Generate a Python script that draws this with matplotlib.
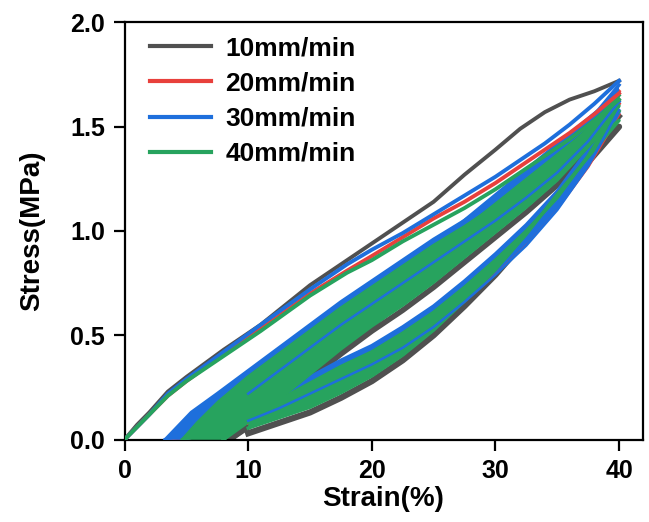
import numpy as np
import matplotlib
matplotlib.use("Agg")
import matplotlib.pyplot as plt

plt.rcParams['font.family'] = ['Liberation Sans', 'DejaVu Sans']
plt.rcParams['font.weight'] = 'bold'

labels = ['10mm/min', '20mm/min', '30mm/min', '40mm/min']
colors = ['#505050', '#e8403c', '#1e6fdc', '#27a35e']

# first loading curves (strain %, stress MPa)
first_x = [0, 1, 2, 3.5, 5, 8, 11, 15, 18, 20, 22.5, 25, 27.5, 30, 32, 34, 36, 38, 40]
first_y = {
    '10mm/min': [0, 0.07, 0.13, 0.23, 0.30, 0.43, 0.55, 0.74, 0.86, 0.94, 1.04, 1.14, 1.27, 1.39, 1.49, 1.57, 1.63, 1.67, 1.72],
    '20mm/min': [0, 0.06, 0.12, 0.21, 0.28, 0.41, 0.53, 0.70, 0.81, 0.88, 0.97, 1.06, 1.14, 1.23, 1.31, 1.39, 1.47, 1.56, 1.66],
    '30mm/min': [0, 0.06, 0.12, 0.22, 0.29, 0.42, 0.55, 0.72, 0.84, 0.91, 0.99, 1.08, 1.17, 1.26, 1.34, 1.42, 1.51, 1.61, 1.72],
    '40mm/min': [0, 0.06, 0.12, 0.21, 0.28, 0.40, 0.52, 0.69, 0.80, 0.86, 0.95, 1.03, 1.11, 1.20, 1.28, 1.36, 1.44, 1.53, 1.63],
}

# later cycles: band edges share one strain grid from 10 % up
band_x = [10, 12.5, 15, 17.5, 20, 22.5, 25, 27.5, 30, 32.5, 35, 37.5, 40]

# 10mm/min later cycles are thin: one reloading and one unloading line
gray_reload_head = ([8.5], [0])
gray_reload = [0.06, 0.17, 0.29, 0.41, 0.52, 0.62, 0.73, 0.85, 0.97, 1.09, 1.22, 1.38, 1.55]
gray_unload_tail = ([8.5], [0])
gray_unload = [0.03, 0.08, 0.13, 0.20, 0.28, 0.38, 0.50, 0.64, 0.79, 0.96, 1.15, 1.33, 1.50]

# reloading band, top and bottom edge: (head strain, head stress), grid stress
reload_top_head = {
    '20mm/min': ([3.6, 5.6, 7.6], [0, 0.11, 0.20]),
    '30mm/min': ([3.3, 5.4, 7.5], [0, 0.13, 0.22]),
    '40mm/min': ([4.7, 5.9, 7.6], [0, 0.08, 0.18]),
}
reload_top = {
    '20mm/min': [0.32, 0.43, 0.54, 0.65, 0.75, 0.85, 0.95, 1.04, 1.14, 1.25, 1.37, 1.51, 1.67],
    '30mm/min': [0.33, 0.44, 0.55, 0.66, 0.76, 0.86, 0.96, 1.05, 1.15, 1.26, 1.38, 1.52, 1.70],
    '40mm/min': [0.30, 0.41, 0.52, 0.63, 0.73, 0.83, 0.93, 1.02, 1.12, 1.23, 1.35, 1.49, 1.65],
}
reload_bot_head = {
    '20mm/min': ([4.7, 5.9, 7.6], [0, 0.05, 0.14]),
    '30mm/min': ([4.7, 5.9, 7.6], [0, 0.06, 0.15]),
    '40mm/min': ([8.0], [0]),
}
reload_bot = {
    '20mm/min': [0.26, 0.37, 0.48, 0.59, 0.69, 0.79, 0.89, 0.98, 1.08, 1.19, 1.31, 1.45, 1.61],
    '30mm/min': [0.27, 0.38, 0.49, 0.60, 0.70, 0.80, 0.90, 0.99, 1.09, 1.20, 1.32, 1.46, 1.62],
    '40mm/min': [0.085, 0.195, 0.315, 0.435, 0.545, 0.645, 0.755, 0.875, 0.995, 1.115, 1.245, 1.405, 1.575],
}

# unloading band, top and bottom edge: grid stress, (tail strain, tail stress)
unload_top = {
    '20mm/min': [0.14, 0.21, 0.29, 0.37, 0.44, 0.53, 0.63, 0.75, 0.88, 1.02, 1.18, 1.38, 1.63],
    '30mm/min': [0.15, 0.22, 0.30, 0.38, 0.45, 0.54, 0.64, 0.76, 0.89, 1.03, 1.19, 1.39, 1.66],
    '40mm/min': [0.12, 0.19, 0.27, 0.35, 0.42, 0.51, 0.61, 0.73, 0.86, 1.00, 1.16, 1.36, 1.60],
}
unload_top_tail = {
    '20mm/min': ([8.0, 6.0, 3.6], [0.09, 0.04, 0]),
    '30mm/min': ([8.0, 6.0, 3.3], [0.10, 0.05, 0]),
    '40mm/min': ([7.8, 6.0, 4.7], [0.08, 0.03, 0]),
}
unload_bot = {
    '20mm/min': [0.08, 0.15, 0.23, 0.30, 0.37, 0.45, 0.55, 0.67, 0.80, 0.94, 1.11, 1.31, 1.56],
    '30mm/min': [0.09, 0.16, 0.24, 0.31, 0.38, 0.46, 0.56, 0.68, 0.81, 0.95, 1.12, 1.32, 1.57],
    '40mm/min': [0.055, 0.105, 0.155, 0.225, 0.305, 0.405, 0.525, 0.665, 0.815, 0.985, 1.175, 1.355, 1.53],
}
unload_bot_tail = {
    '20mm/min': ([7.8, 6.0, 4.7], [0.05, 0.02, 0]),
    '30mm/min': ([7.8, 6.0, 4.7], [0.06, 0.02, 0]),
    '40mm/min': ([8.0], [0]),
}

# single 30mm/min cycles lying inside the 40mm/min bands
inner30_load = [0.22, 0.33, 0.44, 0.55, 0.65, 0.75, 0.85, 0.95, 1.05, 1.16, 1.28, 1.43, 1.62]
inner30_unload = [0.09, 0.15, 0.22, 0.29, 0.36, 0.44, 0.54, 0.66, 0.79, 0.93, 1.10, 1.31, 1.58]

fig = plt.figure(figsize=(6.49, 5.22), dpi=100)
ax = fig.add_axes([0.192, 0.158, 0.798, 0.799])

# 10mm/min cycles (drawn first, lowest)
ax.plot(gray_reload_head[0] + band_x, gray_reload_head[1] + gray_reload,
        color=colors[0], lw=4, zorder=2)
ax.plot(band_x + gray_unload_tail[0], gray_unload + gray_unload_tail[1],
        color=colors[0], lw=4.5, zorder=2)

for i, name in enumerate(labels[1:], start=1):
    c = colors[i]
    z = 2 + i
    tx = reload_top_head[name][0] + band_x
    ty = reload_top_head[name][1] + reload_top[name]
    bx = reload_bot_head[name][0] + band_x
    by = reload_bot_head[name][1] + reload_bot[name]
    ax.fill(tx + bx[::-1], ty + by[::-1], color=c, lw=0, zorder=z)
    ax.plot(tx, ty, color=c, lw=2.5, zorder=z)
    ax.plot(bx, by, color=c, lw=2.5, zorder=z)

    tx = band_x + unload_top_tail[name][0]
    ty = unload_top[name] + unload_top_tail[name][1]
    bx = band_x + unload_bot_tail[name][0]
    by = unload_bot[name] + unload_bot_tail[name][1]
    ax.fill(tx + bx[::-1], ty + by[::-1], color=c, lw=0, zorder=z)
    ax.plot(tx, ty, color=c, lw=2.5, zorder=z)
    ax.plot(bx, by, color=c, lw=2.5, zorder=z)

ax.plot(band_x, inner30_load, color=colors[2], lw=1.8, zorder=6)
ax.plot(band_x, inner30_unload, color=colors[2], lw=1.8, zorder=6)

for i, name in enumerate(labels):
    ax.plot(first_x, first_y[name], color=colors[i], lw=2.8, zorder=7 + i, label=name)

ax.set_xlim(0, 41.9)
ax.set_ylim(0, 2.0)
ax.set_xticks([0, 10, 20, 30, 40])
ax.set_yticks([0, 0.5, 1.0, 1.5, 2.0])
ax.set_yticklabels(['0.0', '0.5', '1.0', '1.5', '2.0'])
ax.tick_params(direction='out', length=8, width=1.6, labelsize=18, pad=6)
for s in ax.spines.values():
    s.set_linewidth(1.6)
ax.set_xlabel('Strain(%)', fontsize=20, fontweight='bold', labelpad=2)
ax.set_ylabel('Stress(MPa)', fontsize=20, fontweight='bold', labelpad=18)

leg = ax.legend(loc='upper left', bbox_to_anchor=(0.049, 0.966), borderaxespad=0,
                borderpad=0, frameon=False, fontsize=19, handlelength=2.3,
                handletextpad=0.56, labelspacing=0.42)
for line in leg.get_lines():
    line.set_linewidth(3)

fig.savefig('out.png', dpi=100)
